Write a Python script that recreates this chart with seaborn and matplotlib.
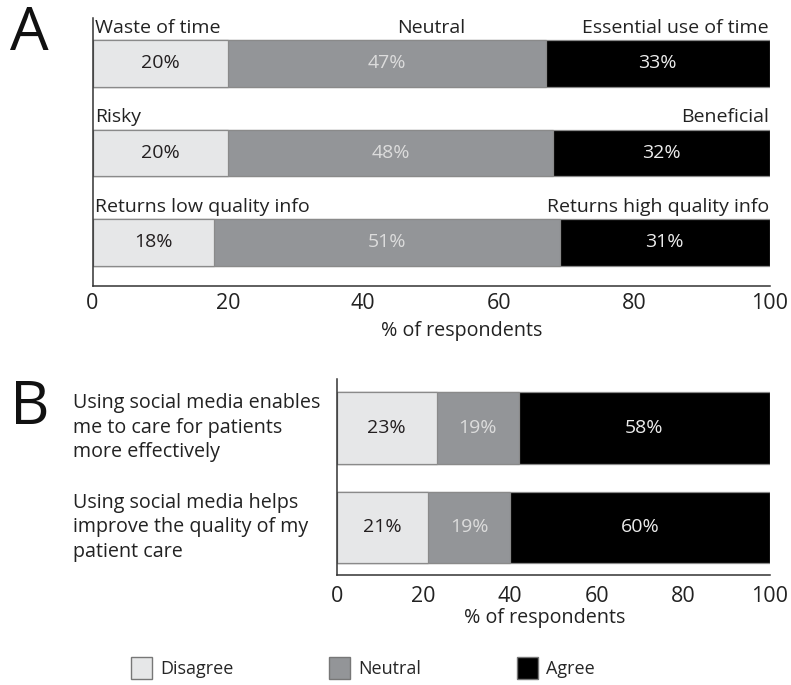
import matplotlib
matplotlib.use("Agg")
import matplotlib.pyplot as plt
from matplotlib.patches import Patch
import matplotlib.transforms as mtransforms
import seaborn as sns
import pandas as pd
import numpy as np

sns.set_style("white")
plt.rcParams['font.family'] = ['Open Sans', 'DejaVu Sans']

# ---------------- data ----------------
a_items = ["Time", "Risk", "Quality"]
a_disagree = [20, 20, 18]
a_neutral = [47, 48, 51]
a_agree = [33, 32, 31]
a_left_labels = ["Waste of time", "Risky", "Returns low quality info"]
a_right_labels = ["Essential use of time", "Beneficial", "Returns high quality info"]
a_mid_labels = ["Neutral", "", ""]

b_items = ["Using social media enables\nme to care for patients\nmore effectively",
           "Using social media helps\nimprove the quality of my\npatient care"]
b_disagree = [23, 21]
b_neutral = [19, 19]
b_agree = [58, 60]

legend_labels = ["Disagree", "Neutral", "Agree"]
x_ticks = [0, 20, 40, 60, 80, 100]
x_label = "% of respondents"

c_dis = "#e6e7e8"
c_neu = "#939598"
c_agr = "#000000"
c_edge = "#8a8a8a"
txt_cols = ["#231f20", "#dcdcdc", "#ececec"]

W, H = 791, 685
fig = plt.figure(figsize=(W / 100, H / 100), dpi=100)


def px_axes(l, r, t, b):
    return fig.add_axes([l / W, 1 - b / H, (r - l) / W, (b - t) / H])


def stacked(ax, items, dis, neu, agr, width):
    df = pd.DataFrame({"item": items, "dis": dis, "neu": neu, "agr": agr})
    df["c1"] = df["dis"]
    df["c2"] = df["dis"] + df["neu"]
    df["c3"] = df["dis"] + df["neu"] + df["agr"]
    for col, colr in [("c3", c_agr), ("c2", c_neu), ("c1", c_dis)]:
        sns.barplot(data=df, x=col, y="item", orient="h", color=colr,
                    width=width, edgecolor=c_edge, linewidth=0.9,
                    saturation=1, ax=ax, order=items)
    for i, row in df.iterrows():
        starts = [0, row["c1"], row["c2"]]
        vals = [row["dis"], row["neu"], row["agr"]]
        for s, v, tc in zip(starts, vals, txt_cols):
            ax.text(s + v / 2, i, f"{v}%", ha="center", va="center",
                    fontsize=14, color=tc)
    return df


def style(ax, label_x, pad, labelpad):
    ax.set_xlim(0, 100)
    ax.set_xticks(x_ticks)
    ax.tick_params(axis="x", direction="in", length=5, width=1,
                   colors="#333333", labelsize=15.5, pad=pad, labelcolor="#222222")
    ax.set_yticks([])
    ax.set_ylabel("")
    ax.set_xlabel(x_label, fontsize=14.2, color="#222222", labelpad=labelpad)
    ax.xaxis.label.set_x(label_x)
    for s in ["top", "right"]:
        ax.spines[s].set_visible(False)
    for s in ["left", "bottom"]:
        ax.spines[s].set_color("#333333")
        ax.spines[s].set_linewidth(1.1)


# ---------------- panel A ----------------
axA = px_axes(92.5, 769.5, 18, 286)
stacked(axA, a_items, a_disagree, a_neutral, a_agree, 0.515)
style(axA, 0.546, 5, 5)
axA.set_ylim(2.486, -0.508)
for i in range(len(a_items)):
    yb = i - 0.515 / 2 - 0.04
    axA.text(0.4, yb, a_left_labels[i], ha="left", va="bottom", fontsize=14, color="#222222")
    axA.text(99.9, yb, a_right_labels[i], ha="right", va="bottom", fontsize=14, color="#222222")
    if a_mid_labels[i]:
        axA.text(50, yb, a_mid_labels[i], ha="center", va="bottom", fontsize=14, color="#222222")

# ---------------- panel B ----------------
axB = px_axes(337, 770, 379, 575)
stacked(axB, b_items, b_disagree, b_neutral, b_agree, 0.72)
style(axB, 0.48, 8, 1)
axB.set_ylim(1.477, -0.49)
trans = mtransforms.blended_transform_factory(fig.transFigure, axB.transData)
for i, lab in enumerate(b_items):
    axB.text(73 / W, i, lab, transform=trans, ha="left", va="center",
             fontsize=14.2, color="#222222", linespacing=1.3)

# panel letters
fig.text(10 / W, 1 - 34 / H, "A", fontsize=44, va="center", ha="left", color="#111111")
fig.text(10 / W, 1 - 408 / H, "B", fontsize=44, va="center", ha="left", color="#111111")

# legend
handles = [Patch(facecolor=c, edgecolor="#777777", linewidth=1) for c in (c_dis, c_neu, c_agr)]
fig.legend(handles, legend_labels, loc="center", bbox_to_anchor=(363 / W, 1 - 668 / H),
           ncol=3, frameon=False, fontsize=13, handlelength=1.15, handleheight=1.5,
           handletextpad=0.45, columnspacing=5.3)

fig.savefig("out.png", dpi=100)
